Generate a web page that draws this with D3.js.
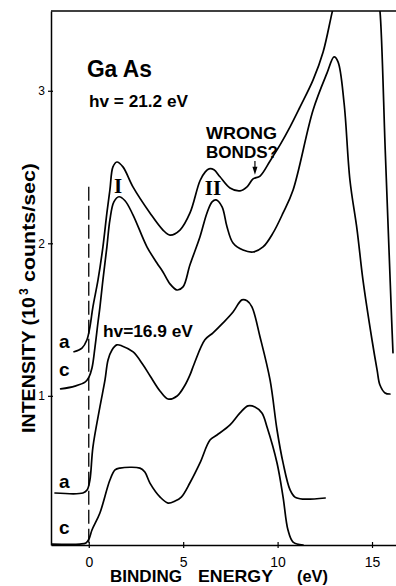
<!DOCTYPE html>
<html><head><meta charset="utf-8">
<script src="https://cdn.jsdelivr.net/npm/d3@7"></script>
<style>html,body{margin:0;padding:0;background:#fff}svg{display:block}</style>
</head><body><svg id="chart" width="396" height="586"></svg>
<script>
// ---- data (binding energy in eV, intensity in 10^3 counts/sec) ----
const xTicks = [0, 5, 10, 15];
const yTicks = [1, 2, 3];

// hv = 21.2 eV, curve a
const a212Energy = [-0.78,-0.36,-0.10,0.06,0.22,0.49,0.75,0.96,1.12,1.28,1.49,1.81,2.34,3.24,3.93,4.30,4.83,5.36,5.89,6.17,6.37,6.63,6.95,7.48,8.01,8.38,8.70,9.07,9.60,10.13,10.66,11.19,11.88,12.41,12.89,13.30,14.10,14.90,15.32,15.42,15.70,15.90,16.04,16.11];
const a212Intensity = [1.289,1.313,1.366,1.451,1.583,1.760,1.977,2.199,2.350,2.501,2.533,2.501,2.370,2.199,2.087,2.054,2.087,2.199,2.410,2.468,2.488,2.482,2.436,2.363,2.344,2.370,2.422,2.441,2.540,2.645,2.763,2.894,3.071,3.254,3.516,3.73,4.05,3.86,3.60,3.523,2.61,1.956,1.497,1.282];

// hv = 21.2 eV, curve c
const c212Energy = [-1.49,-0.73,-0.20,0.01,0.17,0.33,0.49,0.59,0.75,0.96,1.12,1.33,1.60,1.92,2.34,3.08,3.61,3.93,4.30,4.67,4.99,5.36,5.89,6.26,6.53,6.74,7.06,7.32,7.64,8.17,8.70,9.23,9.76,10.29,10.82,11.88,12.62,12.99,13.20,13.52,13.83,14.21,14.52,15.00,15.27,15.42,15.69,15.95];
const c212Intensity = [1.045,1.064,1.090,1.123,1.182,1.320,1.484,1.580,1.760,1.977,2.154,2.272,2.305,2.279,2.187,1.977,1.871,1.812,1.734,1.694,1.714,1.859,2.043,2.199,2.272,2.285,2.239,2.108,2.002,1.956,1.943,1.976,2.068,2.199,2.350,2.874,3.117,3.222,3.190,2.920,2.415,2.087,1.760,1.366,1.169,1.071,1.019,1.012];

// hv = 16.9 eV, curve a
const a169Energy = [-1.79,-0.31,-0.09,0.06,0.22,0.59,0.86,1.02,1.23,1.49,1.76,2.35,2.88,3.25,3.78,4.20,4.68,5.10,5.36,5.58,6.15,6.58,7.11,7.64,8.11,8.38,8.64,9.07,9.60,9.97,10.29,10.66,10.92,11.35,12.52];
const a169Intensity = [0.363,0.363,0.382,0.448,0.664,0.927,1.104,1.235,1.301,1.334,1.327,1.288,1.202,1.130,1.030,0.979,0.999,1.071,1.137,1.209,1.367,1.413,1.478,1.550,1.629,1.623,1.583,1.386,1.104,0.776,0.560,0.383,0.336,0.323,0.330];

// hv = 16.9 eV, curve c
const c169Energy = [-1.95,-0.47,-0.15,0.01,0.17,0.59,1.12,1.39,1.65,2.71,2.97,3.24,3.78,4.20,4.57,4.90,5.36,5.89,6.42,6.79,7.48,8.01,8.43,8.80,9.17,9.44,9.97,10.29,10.55,10.82,11.35];
const c169Intensity = [0.028,0.028,0.035,0.061,0.120,0.232,0.448,0.514,0.526,0.526,0.500,0.428,0.336,0.297,0.310,0.336,0.430,0.560,0.710,0.743,0.809,0.888,0.934,0.927,0.888,0.796,0.560,0.336,0.120,0.041,0.022];

const seriesEnergy = [a212Energy, c212Energy, a169Energy, c169Energy];
const seriesIntensity = [a212Intensity, c212Intensity, a169Intensity, c169Intensity];
const seriesLabels = ["a", "c", "a", "c"];

// ---- drawing ----
const svg = d3.select("#chart");
svg.append("rect").attr("width", 396).attr("height", 586).attr("fill", "#fff");
const FONT = "'Liberation Sans', Arial, Helvetica, sans-serif";

const x = d3.scaleLinear().domain([-2, 16.27]).range([51, 396]);
const y = d3.scaleLinear().domain([0.022, 3.523]).range([545, 11]);

svg.append("clipPath").attr("id", "plotclip")
  .append("rect").attr("x", x(-2)).attr("y", y(3.523))
  .attr("width", x(16.27) - x(-2)).attr("height", y(0.022) - y(3.523));

// axes
const xAxis = svg.append("g").attr("transform", `translate(0,${y(0.022)})`)
  .call(d3.axisBottom(x).tickValues(xTicks).tickFormat(d3.format("d")).tickSize(3).tickSizeOuter(0).tickPadding(9));
xAxis.selectAll(".tick line").attr("y1", -3).attr("y2", 3).attr("stroke-width", 1.2);
xAxis.select(".domain").attr("stroke-width", 1.5);
xAxis.selectAll("text").attr("font-family", FONT).attr("font-size", 14).attr("fill", "#000");

const yAxis = svg.append("g").attr("transform", `translate(${x(-2)},0)`)
  .call(d3.axisLeft(y).tickValues(yTicks).tickFormat(d3.format("d")).tickSize(3).tickSizeOuter(0).tickPadding(3));
yAxis.selectAll(".tick line").attr("x1", 2).attr("x2", -3).attr("stroke-width", 1.2);
yAxis.select(".domain").attr("stroke-width", 1.5);
yAxis.selectAll("text").attr("font-family", FONT).attr("font-size", 12).attr("fill", "#000");

// top frame line
svg.append("line").attr("x1", x(-2)).attr("x2", x(16.27))
  .attr("y1", y(3.523)).attr("y2", y(3.523)).attr("stroke", "#000").attr("stroke-width", 1.3);

// dashed Fermi-level line
svg.append("line").attr("x1", x(0)).attr("x2", x(0))
  .attr("y1", y(2.37)).attr("y2", y(0.022))
  .attr("stroke", "#000").attr("stroke-width", 1.3).attr("stroke-dasharray", "14,5");

// spectra
const line = d3.line().x(d => x(d[0])).y(d => y(d[1])).curve(d3.curveCatmullRom.alpha(0.5));
const plot = svg.append("g").attr("clip-path", "url(#plotclip)");
seriesEnergy.forEach((en, i) => {
  const pts = en.map((e, k) => [e, seriesIntensity[i][k]]);
  plot.append("path").datum(pts).attr("d", line)
    .attr("fill", "none").attr("stroke", "#000").attr("stroke-width", 1.7)
    .attr("stroke-linejoin", "round").attr("stroke-linecap", "round");
});

// curve labels a / c
const labelY = [1.314, 1.131, 0.395, 0.094];
seriesLabels.forEach((t, i) => {
  svg.append("text").attr("x", x(-1.58)).attr("y", y(labelY[i])).text(t)
    .attr("font-family", FONT).attr("font-weight", "bold").attr("font-size", 19);
});

function label(txt, ex, iy, size, opts = {}) {
  const t = svg.append("text").attr("x", x(ex)).attr("y", y(iy)).text(txt)
    .attr("font-family", opts.family || FONT).attr("font-weight", "bold").attr("font-size", size)
    .attr("text-anchor", opts.anchor || "start");
  if (opts.len) t.attr("textLength", opts.len).attr("lengthAdjust", "spacingAndGlyphs");
  return t;
}
label("Ga As", -0.1, 3.09, 23, {len: 65});
label("hv = 21.2  eV", 0.01, 2.894, 17, {len: 99});
label("hv=16.9 eV", 0.75, 1.386, 17, {len: 90});
label("WRONG", 6.21, 2.684, 17, {len: 71});
label("BONDS?", 6.21, 2.559, 17, {len: 72});
const SERIF = "'Liberation Serif', 'DejaVu Serif', serif";
label("I", 1.55, 2.33, 21, {family: SERIF, anchor: "middle"});
label("II", 6.58, 2.317, 21, {family: SERIF, anchor: "middle"});

// arrow pointing to the "wrong bonds" shoulder
const ax = x(8.80), ay1 = y(2.54), ay2 = y(2.45);
svg.append("line").attr("x1", ax).attr("x2", ax).attr("y1", ay1).attr("y2", ay2 - 6)
  .attr("stroke", "#000").attr("stroke-width", 1.2);
svg.append("path").attr("d", `M${ax - 2.5},${ay2 - 8} L${ax + 2.5},${ay2 - 8} L${ax},${ay2} Z`).attr("fill", "#000");

// x-axis title
[["BINDING", 110, 72], ["ENERGY", 198, 75], ["(eV)", 297, 31]].forEach(([t, px, w]) => {
  svg.append("text").attr("x", px).attr("y", 581.5).text(t)
    .attr("font-family", FONT).attr("font-weight", "bold").attr("font-size", 17)
    .attr("textLength", w).attr("lengthAdjust", "spacingAndGlyphs");
});

// y-axis title (rotated)
const yt = svg.append("g").attr("transform", "rotate(-90)");
yt.append("text").attr("x", -433).attr("y", 35).text("INTENSITY (10")
  .attr("font-family", FONT).attr("font-weight", "bold").attr("font-size", 19)
  .attr("textLength", 136).attr("lengthAdjust", "spacingAndGlyphs");
yt.append("text").attr("x", -295).attr("y", 28).text("3")
  .attr("font-family", FONT).attr("font-weight", "bold").attr("font-size", 12);
yt.append("text").attr("x", -282).attr("y", 35).text("counts/sec)")
  .attr("font-family", FONT).attr("font-weight", "bold").attr("font-size", 19)
  .attr("textLength", 119).attr("lengthAdjust", "spacingAndGlyphs");
</script></body></html>
